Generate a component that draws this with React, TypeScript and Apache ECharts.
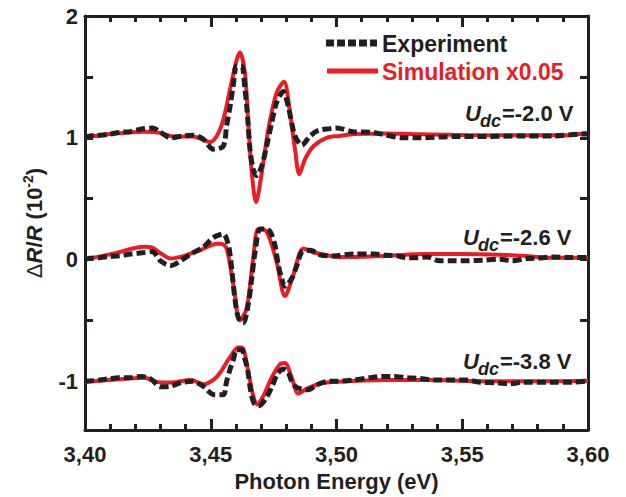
import React, { useEffect, useRef } from 'react';
import * as echarts from 'echarts';

// ---- data: [photon energy (eV), ΔR/R (10^-2)] ----
const simTop: number[][] = [
  [3.400, 1.0], [3.410, 1.03], [3.4235, 1.05], [3.430, 1.04], [3.435, 1.01], [3.443, 1.01],
  [3.4497, 0.966], [3.4524, 1.015], [3.455, 1.15], [3.4577, 1.40], [3.4603, 1.64], [3.4616, 1.70],
  [3.4636, 1.53], [3.4649, 1.12], [3.4663, 0.716], [3.468, 0.47], [3.4703, 0.716], [3.4729, 1.07],
  [3.4762, 1.37], [3.4791, 1.46], [3.4815, 1.205], [3.4835, 0.906], [3.4852, 0.70], [3.4875, 0.825],
  [3.4908, 0.93], [3.4961, 1.0], [3.5014, 1.015], [3.507, 1.03], [3.52, 1.035], [3.53, 1.03],
  [3.545, 1.025], [3.56, 1.02], [3.575, 1.02], [3.59, 1.02], [3.60, 1.04],
];
const expTop: number[][] = [
  [3.400, 1.0], [3.402, 1.015], [3.406, 1.02], [3.410, 1.03], [3.414, 1.045], [3.418, 1.05],
  [3.422, 1.07], [3.427, 1.08], [3.430, 1.045], [3.434, 1.0], [3.439, 1.015], [3.443, 1.02],
  [3.447, 0.99], [3.451, 0.906], [3.455, 0.933], [3.4563, 1.10], [3.4577, 1.26], [3.459, 1.44],
  [3.4603, 1.59], [3.4623, 1.59], [3.4636, 1.40], [3.4643, 1.26], [3.4649, 1.10], [3.4656, 0.906],
  [3.4669, 0.74], [3.4683, 0.69], [3.4703, 0.77], [3.4722, 0.93], [3.4742, 1.12], [3.4762, 1.29],
  [3.4788, 1.38], [3.4808, 1.26], [3.4822, 1.12], [3.4835, 1.015], [3.4862, 0.94], [3.4895, 1.015],
  [3.4928, 1.06], [3.4974, 1.075], [3.5000, 1.08], [3.5066, 1.05], [3.5133, 1.045], [3.518, 1.03],
  [3.5264, 1.0], [3.5332, 1.0], [3.5463, 1.01], [3.560, 1.01], [3.573, 1.015], [3.586, 1.015],
  [3.598, 1.03], [3.600, 1.03],
];
const simMid: number[][] = [
  [3.400, 0.0], [3.4115, 0.05], [3.4235, 0.105], [3.4266, 0.10], [3.4301, 0.05], [3.4341, 0.008],
  [3.4394, 0.03], [3.446, 0.08], [3.4525, 0.13], [3.4540, 0.13], [3.4563, 0.09], [3.459, -0.21],
  [3.4616, -0.50], [3.4643, -0.40], [3.4669, 0.01], [3.4689, 0.25], [3.4722, 0.23], [3.4762, -0.02],
  [3.4795, -0.30], [3.4828, -0.13], [3.4868, 0.09], [3.4908, 0.06], [3.4961, 0.035], [3.5014, 0.02],
  [3.52, 0.03], [3.535, 0.045], [3.55, 0.045], [3.565, 0.04], [3.575, 0.03], [3.585, 0.014],
  [3.60, 0.014],
];
const expMid: number[][] = [
  [3.400, 0.0], [3.402, 0.01], [3.4056, 0.015], [3.4095, 0.025], [3.4135, 0.03], [3.4182, 0.045],
  [3.4227, 0.055], [3.4266, 0.065], [3.4302, -0.015], [3.4341, -0.05], [3.4384, -0.005],
  [3.4425, 0.05], [3.447, 0.10], [3.451, 0.18], [3.455, 0.21], [3.457, 0.12], [3.4577, 0.035],
  [3.4583, -0.07], [3.4596, -0.32], [3.461, -0.48], [3.4629, -0.52], [3.4649, -0.37],
  [3.4663, -0.155], [3.4676, 0.06], [3.4696, 0.25], [3.4716, 0.25], [3.4736, 0.23], [3.4755, 0.12],
  [3.4769, -0.05], [3.4782, -0.155], [3.4795, -0.22], [3.4822, -0.155], [3.4842, -0.05],
  [3.4862, 0.06], [3.4895, 0.076], [3.4941, 0.035], [3.4987, 0.03], [3.5066, 0.045], [3.515, 0.045],
  [3.520, 0.035], [3.524, 0.03], [3.528, 0.015], [3.532, 0.015], [3.536, 0.02], [3.541, -0.01],
  [3.546, -0.01], [3.552, -0.01], [3.558, -0.005], [3.565, 0.003], [3.570, -0.01], [3.5756, 0.008],
  [3.580, 0.012], [3.586, 0.02], [3.593, 0.016], [3.600, 0.016],
];
const simBot: number[][] = [
  [3.400, -1.005], [3.4095, -0.99], [3.4235, -0.97], [3.4286, -1.005], [3.4341, -1.01],
  [3.442, -0.99], [3.4473, -1.025], [3.4513, -0.985], [3.4537, -0.93], [3.4577, -0.80],
  [3.461, -0.72], [3.4629, -0.73], [3.4649, -0.92], [3.4669, -1.12], [3.4683, -1.19],
  [3.4709, -1.12], [3.4742, -0.97], [3.4775, -0.86], [3.4795, -0.85], [3.4822, -0.97],
  [3.4848, -1.10], [3.4882, -1.06], [3.4934, -1.02], [3.500, -1.004], [3.520, -0.99],
  [3.540, -0.99], [3.560, -1.0], [3.580, -1.0], [3.600, -0.995],
];
const expBot: number[][] = [
  [3.400, -1.0], [3.4056, -0.99], [3.4095, -0.98], [3.4135, -0.97], [3.4175, -0.97],
  [3.4223, -0.96], [3.4261, -0.98], [3.4301, -1.045], [3.4342, -1.04], [3.4384, -1.01],
  [3.4429, -1.0], [3.4469, -1.04], [3.4513, -1.11], [3.455, -1.11], [3.4563, -1.0], [3.4577, -0.90],
  [3.459, -0.82], [3.4603, -0.74], [3.4623, -0.74], [3.4636, -0.82], [3.4647, -0.91],
  [3.4659, -1.08], [3.4672, -1.18], [3.4692, -1.20], [3.4725, -1.12], [3.4746, -1.03],
  [3.4765, -0.94], [3.4788, -0.90], [3.4808, -0.93], [3.4822, -1.0], [3.4842, -1.05],
  [3.4888, -1.07], [3.4921, -1.03], [3.4967, -1.0], [3.4986, -1.0], [3.5066, -0.99],
  [3.5133, -0.97], [3.5185, -0.96], [3.5225, -0.96], [3.5279, -0.97], [3.5332, -0.977],
  [3.5398, -0.99], [3.5463, -0.99], [3.5518, -0.99], [3.5571, -1.007], [3.5637, -1.012],
  [3.569, -1.02], [3.5742, -1.007], [3.5861, -1.007], [3.594, -1.007], [3.600, -0.998],
];

const voltages = ['-2.0', '-2.6', '-3.8'];
const legendNames = ['Experiment', 'Simulation x0.05'];
const yLabelValues = [-1, 0, 1, 2];
const yTickValues = [-1, -0.5, 0, 0.5, 1, 1.5, 2];
const xMin = 3.4;
const xMax = 3.6;
const xInterval = 0.05;
const yMin = -1.4;
const yMax = 2;

const BLACK = '#231f20';
const RED = '#ed1c24';
const FONT = '"Liberation Sans", Arial, Helvetica, sans-serif';

function measure(text: string, font: string): number {
  const c = document.createElement('canvas');
  const ctx = c.getContext('2d');
  if (!ctx) return text.length * 12;
  ctx.font = font;
  return ctx.measureText(text).width;
}

export default function App() {
  const ref = useRef<HTMLDivElement>(null);

  useEffect(() => {
    if (!ref.current) return;
    const chart = echarts.init(ref.current, null, { renderer: 'svg' });

    const axisCommon = {
      axisLine: { show: true, onZero: false, lineStyle: { color: BLACK, width: 3 } },
      splitLine: { show: false },
    };

    const xAxisBase = {
      type: 'value',
      min: xMin,
      max: xMax,
      interval: xInterval,
      ...axisCommon,
      axisTick: { show: true, inside: true, length: 11, lineStyle: { color: BLACK, width: 3 } },
      minorTick: { show: true, splitNumber: 5, length: 6, lineStyle: { color: BLACK, width: 3 } },
    };

    const yAxisBase = {
      type: 'value',
      min: yMin,
      max: yMax,
      ...axisCommon,
      axisTick: {
        show: true, inside: true, length: 8, customValues: yTickValues,
        lineStyle: { color: BLACK, width: 3 },
      },
    };

    const uFont = `italic bold 22px ${FONT}`;
    const dFont = `italic bold 18px ${FONT}`;
    const wU = measure('U', uFont);
    const wD = measure('dc', dFont);
    const labelY = [113, 237, 361];
    const labelX = [465, 463, 463];

    const udcGraphics = voltages.map((v, i) => ({
      type: 'group',
      x: labelX[i],
      y: labelY[i],
      children: [
        { type: 'text', x: 0, y: 0, style: { text: 'U', font: uFont, fill: BLACK, align: 'left', verticalAlign: 'middle' } },
        { type: 'text', x: wU - 1, y: 8, style: { text: 'dc', font: dFont, fill: BLACK, align: 'left', verticalAlign: 'middle' } },
        { type: 'text', x: wU + wD, y: 0, style: { text: `=${v} V`, font: `bold 22px ${FONT}`, fill: BLACK, align: 'left', verticalAlign: 'middle' } },
      ],
    }));

    const legendGraphics = [
      { type: 'line', shape: { x1: 326, y1: 43, x2: 377, y2: 43 }, style: { stroke: BLACK, lineWidth: 7, lineDash: [8, 3] } },
      { type: 'text', x: 382, y: 44, style: { text: legendNames[0], font: `bold 23px ${FONT}`, fill: BLACK, align: 'left', verticalAlign: 'middle' } },
      { type: 'line', shape: { x1: 327, y1: 71, x2: 378, y2: 71 }, style: { stroke: RED, lineWidth: 5 } },
      { type: 'text', x: 382, y: 72, style: { text: legendNames[1], font: `bold 23px ${FONT}`, fill: RED, align: 'left', verticalAlign: 'middle' } },
    ];

    const simSeries = (name: string, data: number[][]) => ({
      name, type: 'line', data, smooth: 0.3, showSymbol: false, symbol: 'none',
      lineStyle: { color: RED, width: 4 }, z: 2,
    });
    const expSeries = (name: string, data: number[][]) => ({
      name, type: 'line', data, smooth: 0.3, showSymbol: false, symbol: 'none',
      lineStyle: { color: BLACK, width: 5, type: [9, 4], cap: 'butt' }, z: 3,
    });

    const textStyle = { color: BLACK, fontSize: 22, fontWeight: 'bold', fontFamily: FONT };

    chart.setOption({
      animation: false,
      grid: { left: 85, right: 38, top: 16, bottom: 64, containLabel: false },
      xAxis: [
        {
          ...xAxisBase,
          position: 'bottom',
          axisLabel: {
            ...textStyle, margin: 13,
            formatter: (val: number) => val.toFixed(2).replace('.', ','),
          },
          name: 'Photon Energy (eV)',
          nameLocation: 'middle',
          nameGap: 40,
          nameTextStyle: { ...textStyle, verticalAlign: 'top' },
        },
        { ...xAxisBase, position: 'top', axisLabel: { show: false } },
      ],
      yAxis: [
        {
          ...yAxisBase,
          position: 'left',
          axisLabel: {
            ...textStyle, margin: 7, customValues: yLabelValues,
            formatter: (val: number) => String(val),
          },
          name: '{d|Δ}{i|R}{a|/}{i|R}{a| (10}{s|-2}{a|)}',
          nameLocation: 'middle',
          nameGap: 38,
          nameTextStyle: {
            rich: {
              d: { fontSize: 22, fontFamily: FONT, color: BLACK, lineHeight: 26 },
              a: { fontSize: 22, fontWeight: 'bold', fontFamily: FONT, color: BLACK, lineHeight: 26 },
              i: { fontSize: 22, fontWeight: 'bold', fontStyle: 'italic', fontFamily: FONT, color: BLACK, lineHeight: 26 },
              s: { fontSize: 14, fontWeight: 'bold', fontFamily: FONT, color: BLACK, lineHeight: 14, verticalAlign: 'top' },
            },
          },
        },
        { ...yAxisBase, position: 'right', axisLabel: { show: false } },
      ],
      series: [
        simSeries('Simulation -2.0 V', simTop),
        expSeries('Experiment -2.0 V', expTop),
        simSeries('Simulation -2.6 V', simMid),
        expSeries('Experiment -2.6 V', expMid),
        simSeries('Simulation -3.8 V', simBot),
        expSeries('Experiment -3.8 V', expBot),
      ],
      graphic: [...legendGraphics, ...udcGraphics],
    });

    return () => chart.dispose();
  }, []);

  return <div ref={ref} style={{ position: 'absolute', left: 0, top: 0, width: 626, height: 497 }} />;
}
